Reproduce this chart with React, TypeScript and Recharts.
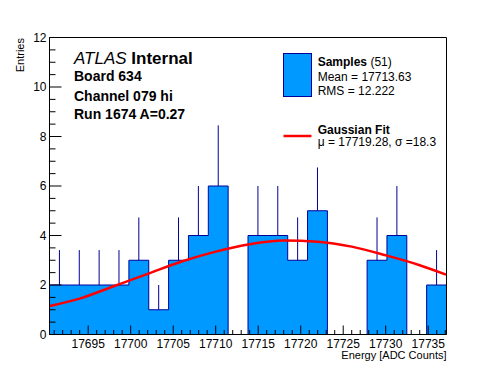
import React from "react";
import { ComposedChart, Area, Line, Scatter, ErrorBar, XAxis, YAxis, ReferenceArea } from "recharts";

// histogram bin edges (ADC counts), 20 bins
const binEdges = [
  17690.45, 17692.785, 17695.12, 17697.455, 17699.79, 17702.125, 17704.46,
  17706.795, 17709.13, 17711.465, 17713.8, 17716.135, 17718.47, 17720.805,
  17723.14, 17725.475, 17727.81, 17730.145, 17732.48, 17734.815, 17737.15,
];
const counts = [2, 2, 2, 2, 3, 1, 3, 4, 6, 0, 4, 4, 3, 5, 0, 0, 3, 4, 0, 2];
const errUp = [1.41, 1.41, 1.41, 1.41, 1.73, 1, 1.73, 2, 2.45, 0, 2, 2, 1.73, 1.75, 0, 0, 1.73, 2, 0, 1.41];

// gaussian fit curve
const fitEnergy = [17690.5, 17694, 17698, 17702, 17706, 17710, 17714, 17718, 17722, 17726, 17730, 17734, 17737.1];
const fitValues = [1.15, 1.45, 1.95, 2.45, 2.95, 3.35, 3.65, 3.8, 3.75, 3.55, 3.2, 2.8, 2.42];

const xMajor = [17695, 17700, 17705, 17710, 17715, 17720, 17725, 17730, 17735];
const yMajor = [0, 2, 4, 6, 8, 10, 12];

const X_MIN = binEdges[0];
const X_MAX = binEdges[binEdges.length - 1];

const xTicks: number[] = [];
for (let v = Math.ceil(X_MIN); v <= X_MAX; v++) xTicks.push(v);
const yTicks: number[] = [];
for (let v = 0; v <= 12; v += 0.5) yTicks.push(v);

const histData = binEdges.map((x, i) => ({ x, y: counts[Math.min(i, counts.length - 1)] }));
const errData = counts
  .map((y, i) => ({ x: (binEdges[i] + binEdges[i + 1]) / 2, y, err: [0, errUp[i]] }))
  .filter((d) => d.y > 0);
const fitData = fitEnergy.map((x, i) => ({ x, y: fitValues[i] }));

const FONT = "'Liberation Sans', Arial, Helvetica, sans-serif";
const FILL = "#0099ff";
const EDGE = "#000099";

const XTick = (props: any) => {
  const { x, y, payload } = props;
  const major = xMajor.includes(payload.value);
  return (
    <g>
      <line x1={x} x2={x} y1={y} y2={y - (major ? 9 : 4.5)} stroke="#000" />
      {major && (
        <text x={x} y={y + 13} textAnchor="middle" fontSize={12} fontFamily={FONT} fill="#000">
          {payload.value}
        </text>
      )}
    </g>
  );
};

const YTick = (props: any) => {
  const { x, y, payload } = props;
  const major = yMajor.includes(payload.value);
  return (
    <g>
      <line x1={x} x2={x + (major ? 12 : 6)} y1={y} y2={y} stroke="#000" />
      {major && (
        <text x={x - 3} y={y + 4.3} textAnchor="end" fontSize={12} fontFamily={FONT} fill="#000">
          {payload.value}
        </text>
      )}
    </g>
  );
};

export default function App() {
  return (
    <div style={{ position: "absolute", left: 0, top: 0, width: 496, height: 372, background: "#fff" }}>
      <ComposedChart width={496} height={372} margin={{ top: 37.5, right: 49.5, bottom: 0, left: 0 }}>
        <Area
          data={histData}
          dataKey="y"
          type="stepAfter"
          fill={FILL}
          fillOpacity={1}
          stroke={EDGE}
          strokeWidth={1}
          isAnimationActive={false}
        />
        <Scatter data={errData} dataKey="y" shape={() => <g />} isAnimationActive={false}>
          <ErrorBar dataKey="err" direction="y" width={0} stroke={EDGE} strokeWidth={1} />
        </Scatter>
        <Line
          data={fitData}
          dataKey="y"
          type="monotone"
          stroke="#ff0000"
          strokeWidth={2.5}
          dot={false}
          isAnimationActive={false}
        />
        <ReferenceArea x1={X_MIN} x2={X_MAX} y1={0} y2={12} fill="none" stroke="#000" strokeWidth={1} />
        <XAxis
          type="number"
          dataKey="x"
          domain={[X_MIN, X_MAX]}
          allowDataOverflow
          ticks={xTicks}
          interval={0}
          tick={<XTick />}
          tickLine={false}
          tickSize={0}
          tickMargin={0}
          height={37.5}
          stroke="#000"
        />
        <YAxis
          type="number"
          dataKey="y"
          domain={[0, 12]}
          allowDataOverflow
          ticks={yTicks}
          interval={0}
          tick={<YTick />}
          tickLine={false}
          tickSize={0}
          tickMargin={0}
          width={49.5}
          stroke="#000"
        />
      </ComposedChart>
      <svg width={496} height={372} style={{ position: "absolute", left: 0, top: 0, pointerEvents: "none" }} fontFamily={FONT}>
        <text x={24} y={38} transform="rotate(-90 24 38)" textAnchor="end" fontSize={11}>Entries</text>
        <text x={446.5} y={358.5} textAnchor="end" fontSize={11}>Energy [ADC Counts]</text>

        <text x={74} y={63.5} fontSize={17}>
          <tspan fontStyle="italic">ATLAS</tspan>
          <tspan fontWeight="bold"> Internal</tspan>
        </text>
        <text x={74} y={80.7} fontSize={14} fontWeight="bold">Board 634</text>
        <text x={74} y={100.5} fontSize={14} fontWeight="bold">Channel 079 hi</text>
        <text x={74} y={119.3} fontSize={14} fontWeight="bold">Run 1674 A=0.27</text>

        <rect x={283.5} y={53.5} width={28} height={43} fill={FILL} stroke={EDGE} />
        <text x={317.7} y={66} fontSize={12}>
          <tspan fontWeight="bold">Samples</tspan>
          <tspan> (51)</tspan>
        </text>
        <text x={317.7} y={80.7} fontSize={12}>Mean = 17713.63</text>
        <text x={317.7} y={95} fontSize={12}>RMS = 12.222</text>

        <line x1={283.5} x2={311.5} y1={136} y2={136} stroke="#ff0000" strokeWidth={2.5} />
        <text x={317.7} y={134} fontSize={12} fontWeight="bold">Gaussian Fit</text>
        <text x={317.7} y={146} fontSize={12}>μ = 17719.28, σ =18.3</text>
      </svg>
    </div>
  );
}
